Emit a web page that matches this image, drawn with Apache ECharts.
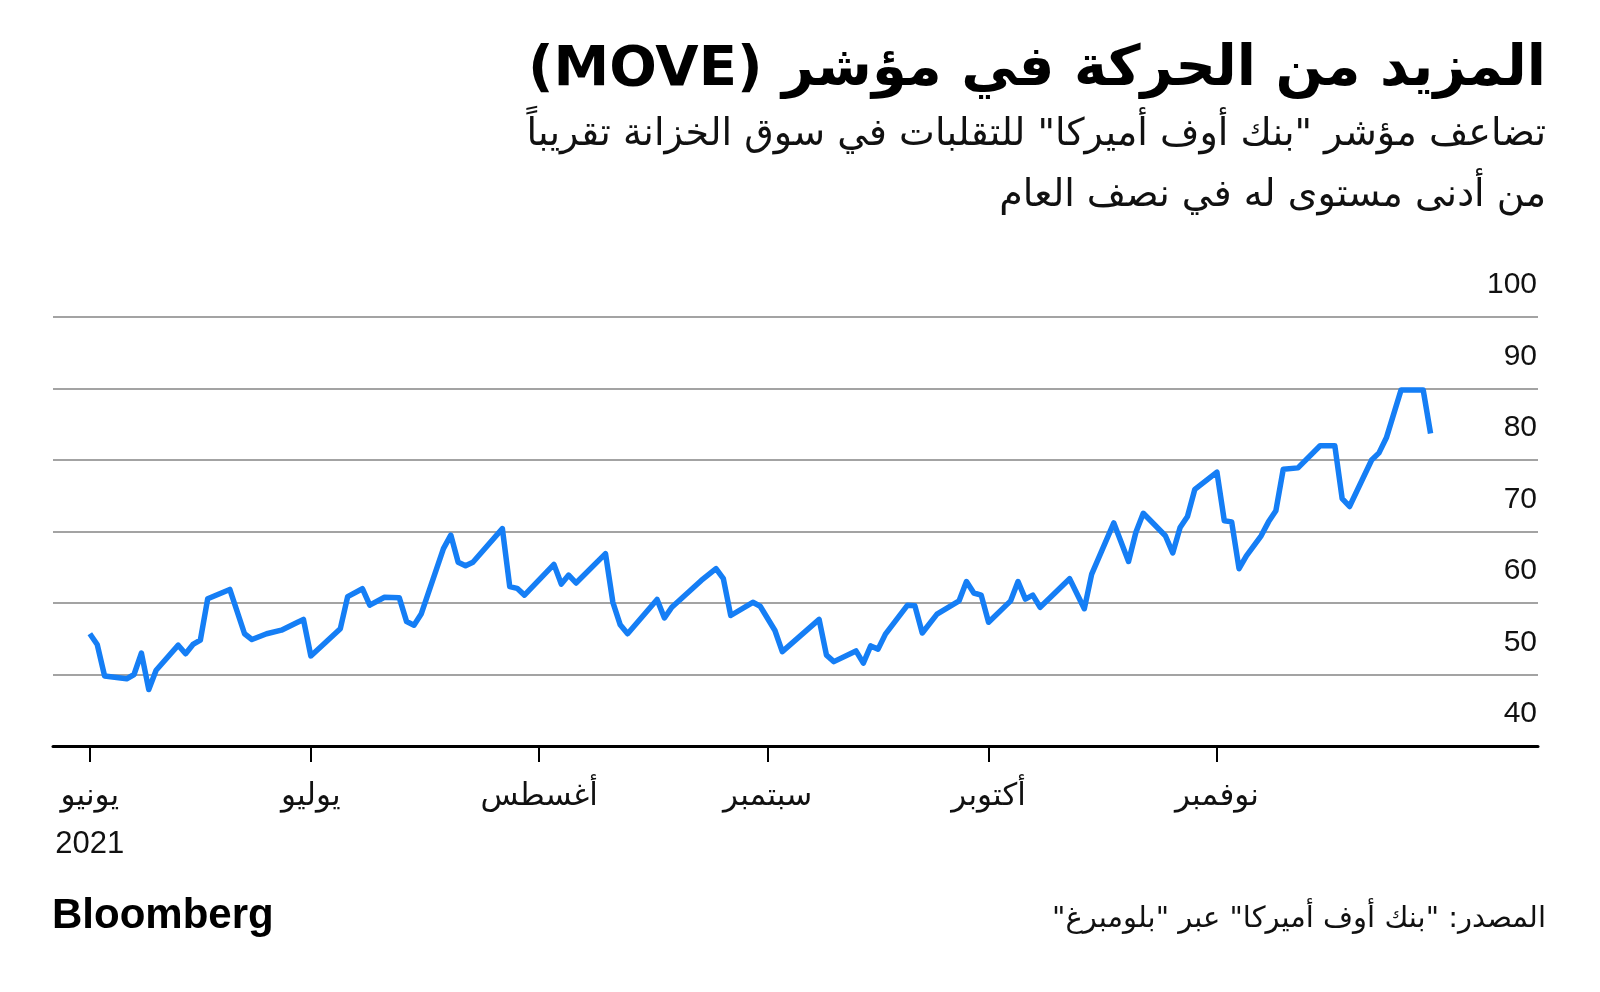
<!DOCTYPE html>
<html>
<head>
<meta charset="utf-8">
<script src="https://cdn.jsdelivr.net/npm/echarts@6/dist/echarts.min.js"></script>
<style>html,body{margin:0;padding:0;background:#fff}#chart{width:1600px;height:992px}</style>
</head>
<body>
<div id="chart" dir="rtl"></div>
<script>
// MOVE index readings (approximate)
const dates = [
 '2021-06-01','2021-06-02','2021-06-03','2021-06-06','2021-06-07','2021-06-08','2021-06-09','2021-06-10',
 '2021-06-13','2021-06-14','2021-06-15','2021-06-16','2021-06-17','2021-06-20','2021-06-22','2021-06-23',
 '2021-06-25','2021-06-27','2021-06-29','2021-06-30','2021-07-01','2021-07-05','2021-07-06','2021-07-08',
 '2021-07-09','2021-07-11','2021-07-13','2021-07-14','2021-07-15','2021-07-16','2021-07-19','2021-07-20',
 '2021-07-21','2021-07-22','2021-07-23','2021-07-27','2021-07-28','2021-07-29','2021-07-30','2021-08-03',
 '2021-08-04','2021-08-05','2021-08-06','2021-08-10','2021-08-11','2021-08-12','2021-08-13','2021-08-17',
 '2021-08-18','2021-08-19','2021-08-23','2021-08-25','2021-08-26','2021-08-27','2021-08-30','2021-08-31',
 '2021-09-02','2021-09-03','2021-09-08','2021-09-09','2021-09-10','2021-09-13','2021-09-14','2021-09-15',
 '2021-09-16','2021-09-17','2021-09-20','2021-09-21','2021-09-22','2021-09-24','2021-09-27','2021-09-28',
 '2021-09-29','2021-09-30','2021-10-01','2021-10-04','2021-10-05','2021-10-06','2021-10-07','2021-10-08',
 '2021-10-12','2021-10-14','2021-10-15','2021-10-18','2021-10-20','2021-10-21','2021-10-22','2021-10-25',
 '2021-10-26','2021-10-27','2021-10-28','2021-10-29','2021-11-01','2021-11-02','2021-11-03','2021-11-04',
 '2021-11-05','2021-11-07','2021-11-08','2021-11-09','2021-11-10','2021-11-12','2021-11-15','2021-11-17',
 '2021-11-18','2021-11-19','2021-11-22','2021-11-23','2021-11-24','2021-11-26','2021-11-29','2021-11-30'
];
const values = [
 55.7,54.2,49.8,49.4,50.0,53.0,47.9,50.6,
 54.1,52.9,54.2,54.8,60.6,61.9,55.7,54.9,
 55.7,56.2,57.2,57.7,52.6,56.4,60.9,62.0,
 59.7,60.8,60.75,57.4,56.9,58.5,67.6,69.5,
 65.7,65.2,65.7,70.4,62.3,62.05,61.1,65.4,
 62.65,63.9,62.8,66.9,60.1,56.95,55.7,60.5,
 57.9,59.4,63.15,64.8,63.4,58.25,60.1,59.55,
 56.15,53.2,57.7,52.7,51.8,53.3,51.6,54.0,
 53.55,55.65,59.7,59.6,55.8,58.45,60.3,63.0,
 61.4,61.1,57.3,60.3,63.0,60.55,61.1,59.4,
 63.4,59.2,64.05,71.2,65.8,69.9,72.55,69.4,
 67.0,70.55,72.1,75.9,78.3,71.5,71.35,64.8,
 66.6,69.4,71.35,72.9,78.7,78.9,82.0,82.0,
 74.6,73.5,80.0,81.0,83.1,89.8,89.8,83.7
];
const monthTicks = ['2021-06-01','2021-07-01','2021-08-01','2021-09-01','2021-10-01','2021-11-01'];
const monthLabels = ['يونيو','يوليو','أغسطس','سبتمبر','أكتوبر','نوفمبر'];
const yearLabel = '2021';
const yMin = 40, yMax = 100, yStep = 10;
const xStart = '2021-05-27', xEnd = '2021-12-14';

const titleText = 'المزيد من الحركة في مؤشر (MOVE)';
const subtitleLine1 = 'تضاعف مؤشر "بنك أوف أميركا" للتقلبات في سوق الخزانة تقريباً';
const subtitleLine2 = 'من أدنى مستوى له في نصف العام';
const sourceText = 'المصدر: "بنك أوف أميركا" عبر "بلومبرغ"';
const brandText = 'Bloomberg';

const DAY = 86400000;
function ts(s){ const p=s.split('-').map(Number); return Date.UTC(p[0],p[1]-1,p[2]); }
const seriesData = dates.map((d,i)=>[ts(d), values[i]]);
const tickTs = monthTicks.map(ts);

const FONT = "'Liberation Sans', 'DejaVu Sans', sans-serif";
const AR = "'DejaVu Sans', sans-serif";
const chart = echarts.init(document.getElementById('chart'), null, {renderer:'canvas'});
chart.setOption({
  animation:false,
  backgroundColor:'#ffffff',
  textStyle:{fontFamily:FONT, color:'#111'},
  title:[
    {text:titleText, right:54, top:34, padding:0, textStyle:{fontFamily:AR, fontWeight:'bold', fontSize:56, lineHeight:72, color:'#000'}},
    {text:subtitleLine1, right:54, top:105, padding:0, textStyle:{fontFamily:AR, fontWeight:'normal', fontSize:38, lineHeight:61, color:'#111'}},
    {text:subtitleLine2, right:54, top:166, padding:0, textStyle:{fontFamily:AR, fontWeight:'normal', fontSize:38, lineHeight:61, color:'#111'}},
    {text:brandText, left:52, top:893, padding:0, textStyle:{fontFamily:"'Liberation Sans', Arial, sans-serif", fontWeight:'bold', fontSize:42, lineHeight:46, color:'#000'}},
    {text:sourceText, right:54, top:901, padding:0, textStyle:{fontFamily:AR, fontWeight:'normal', fontSize:29, lineHeight:36, color:'#111'}}
  ],
  grid:{left:53, right:62, top:317, bottom:246, containLabel:false},
  xAxis:{
    type:'value', min:ts(xStart), max:ts(xEnd)+14*3600*1000, scale:true,
    axisLine:{show:true, onZero:false, lineStyle:{color:'#000', width:3}},
    axisTick:{show:true, customValues:tickTs, length:16, lineStyle:{color:'#000', width:2}},
    splitLine:{show:false},
    axisLabel:{
      customValues:tickTs, margin:26, fontSize:31, lineHeight:48, color:'#111',
      fontFamily:FONT,
      formatter:function(v){
        let i = -1;
        for(let k=0;k<tickTs.length;k++){ if(Math.abs(tickTs[k]-v) < DAY/2) i=k; }
        if(i<0) return '';
        return i===0 ? monthLabels[i]+'\n'+yearLabel : monthLabels[i];
      }
    }
  },
  yAxis:{
    type:'value', position:'right', min:yMin, max:yMax, interval:yStep,
    axisLine:{show:false}, axisTick:{show:false},
    splitLine:{show:true, lineStyle:{color:'#a3a3a3', width:2}},
    axisLabel:{inside:true, margin:1, fontSize:30, color:'#111', verticalAlign:'bottom', padding:[0,0,17,0], fontFamily:"'Liberation Sans', Arial, sans-serif"}
  },
  series:[{
    type:'line', data:seriesData, showSymbol:false, symbol:'none',
    lineStyle:{color:'#157ef5', width:5.5, join:'round'}, z:5
  }]
});
</script>
</body>
</html>
